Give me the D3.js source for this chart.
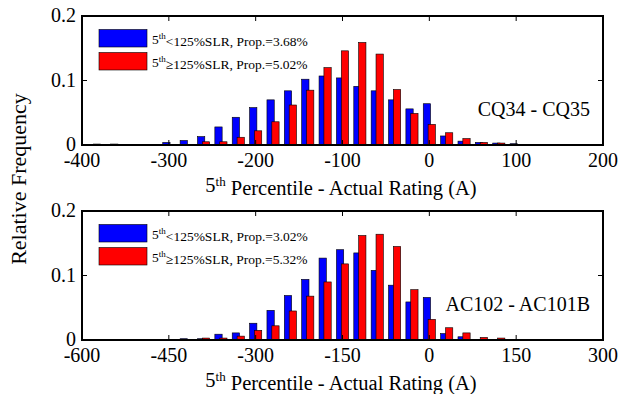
<!DOCTYPE html>
<html>
<head>
<meta charset="utf-8">
<script src="https://cdn.jsdelivr.net/npm/d3@7"></script>
<style>
  body { margin: 0; background: #fff; }
  text { font-family: "Liberation Serif", "Times New Roman", serif; fill: #000; }
</style>
</head>
<body>
<div class="chart"></div>
<script>
// ---- data ----
var topCenters = [-380,-360,-340,-320,-300,-280,-260,-240,-220,-200,-180,-160,-140,-120,-100,-80,-60,-40,-20,0,20,40,60,80,100,120,140,160,180];
var topBlue = [0.0015,0.0015,0.001,0.001,0.004,0.007,0.013,0.028,0.043,0.058,0.070,0.084,0.102,0.107,0.104,0.091,0.084,0.070,0.056,0.064,0.014,0.006,0.004,0.003,0.002,0,0.001,0,0];
var topRed  = [0,0,0.001,0,0.0005,0,0.005,0.005,0.012,0.022,0.036,0.062,0.085,0.120,0.146,0.159,0.141,0.086,0.049,0.032,0.019,0.010,0.004,0.003,0.001,0.001,0,0.001,0];
var topTicks = [-400,-300,-200,-100,0,100,200];

var botCenters = [-570,-540,-510,-480,-450,-420,-390,-360,-330,-300,-270,-240,-210,-180,-150,-120,-90,-60,-30,0,30,60,90,120,150,180,210,240,270];
var botBlue = [0,0,0,0,0.001,0.002,0.002,0.009,0.011,0.026,0.046,0.069,0.094,0.127,0.140,0.135,0.108,0.085,0.059,0.066,0.010,0.005,0.001,0,0,0,0,0,0];
var botRed  = [0,0,0.0005,0.001,0.001,0,0.003,0.003,0.006,0.015,0.022,0.045,0.068,0.090,0.118,0.162,0.164,0.145,0.078,0.032,0.019,0.011,0.004,0.003,0.001,0.0005,0.0005,0.0005,0];
var botTicks = [-600,-450,-300,-150,0,150,300];

var yTicks = [0, 0.1, 0.2];

var panels = [
  {top: 16, domain: [-400, 200], step: 20, centers: topCenters, blue: topBlue, red: topRed, ticks: topTicks,
   name: "CQ34 - CQ35", blueProp: "3.68%", redProp: "5.02%"},
  {top: 211, domain: [-600, 300], step: 30, centers: botCenters, blue: botBlue, red: botRed, ticks: botTicks,
   name: "AC102 - AC101B", blueProp: "3.02%", redProp: "5.32%"}
];

var width = 622, height = 394;
var left = 82, right = 603, ph = 129;

var svg = d3.select(".chart").append("svg")
    .attr("width", width)
    .attr("height", height);

function drawPanel(p) {
    var g = svg.append("g").attr("transform", "translate(0," + p.top + ")");

    var x = d3.scaleLinear().domain(p.domain).range([left, right]);
    var y = d3.scaleLinear().domain([0, 0.2]).range([ph, 0]);

    var bw = 0.42 * p.step, off = 0.14 * p.step;

    // blue bars then red on top
    [[p.blue, -off, "#0000ff"], [p.red, off, "#ff0000"]].forEach(function(s) {
        g.append("g").selectAll("rect")
            .data(s[0])
            .enter().append("rect")
            .attr("x", function(d, i) { return x(p.centers[i] + s[1] - bw / 2); })
            .attr("width", x(bw) - x(0))
            .attr("y", function(d) { return y(d); })
            .attr("height", function(d) { return y(0) - y(d); })
            .style("fill", s[2])
            .style("stroke", "#000")
            .style("stroke-width", "0.6px");
    });

    // inward ticks on all sides
    var tk = 5;
    var ticks = g.append("g").style("stroke", "#000").style("stroke-width", "1px");
    p.ticks.forEach(function(t) {
        ticks.append("line").attr("x1", x(t)).attr("x2", x(t)).attr("y1", ph).attr("y2", ph - tk);
        ticks.append("line").attr("x1", x(t)).attr("x2", x(t)).attr("y1", 0).attr("y2", tk);
    });
    yTicks.forEach(function(t) {
        ticks.append("line").attr("x1", left).attr("x2", left + tk).attr("y1", y(t)).attr("y2", y(t));
        ticks.append("line").attr("x1", right).attr("x2", right - tk).attr("y1", y(t)).attr("y2", y(t));
    });

    g.append("rect")
        .attr("x", left).attr("y", 0)
        .attr("width", right - left).attr("height", ph)
        .style("fill", "none")
        .style("stroke", "#000")
        .style("stroke-width", "2px");

    // tick labels
    g.append("g").selectAll("text")
        .data(p.ticks)
        .enter().append("text")
        .attr("x", function(d) { return x(d); })
        .attr("y", ph + 22)
        .attr("text-anchor", "middle")
        .style("font-size", "20px")
        .text(function(d) { return d; });

    g.append("g").selectAll("text")
        .data(yTicks)
        .enter().append("text")
        .attr("x", left - 6)
        .attr("y", function(d) { return y(d); })
        .attr("dy", "0.3em")
        .attr("text-anchor", "end")
        .style("font-size", "20px")
        .text(function(d) { return d; });

    // axis title
    var t = g.append("text")
        .attr("x", 341)
        .attr("y", ph + 47)
        .attr("text-anchor", "middle")
        .style("font-size", "20.5px");
    t.append("tspan").text("5");
    t.append("tspan").attr("dy", "-0.45em").style("font-size", "13px").text("th");
    t.append("tspan").attr("dy", "0.45em").text(" Percentile - Actual Rating (A)");

    // pair name
    g.append("text")
        .attr("x", 590)
        .attr("y", 100)
        .attr("text-anchor", "end")
        .style("font-size", "20px")
        .text(p.name);

    // legend
    var items = [["#0000ff", "<125%SLR, Prop.=" + p.blueProp], ["#ff0000", "\u2265125%SLR, Prop.=" + p.redProp]];
    var lg = g.append("g").selectAll("g")
        .data(items)
        .enter().append("g")
        .attr("transform", function(d, i) { return "translate(99," + (13.5 + i * 23) + ")"; });

    lg.append("rect")
        .attr("width", 48).attr("height", 17.5)
        .style("fill", function(d) { return d[0]; })
        .style("stroke", "#000")
        .style("stroke-width", "0.6px");

    var lt = lg.append("text")
        .attr("x", 53)
        .attr("y", 14)
        .style("font-size", "13.5px");
    lt.append("tspan").text("5");
    lt.append("tspan").attr("dy", "-0.45em").style("font-size", "9px").text("th");
    lt.append("tspan").attr("dy", "0.45em").text(function(d) { return d[1]; });
}

panels.forEach(drawPanel);

svg.append("text")
    .attr("transform", "translate(26,179) rotate(-90)")
    .attr("text-anchor", "middle")
    .style("font-size", "22px")
    .text("Relative Frequency");
</script>
</body>
</html>
